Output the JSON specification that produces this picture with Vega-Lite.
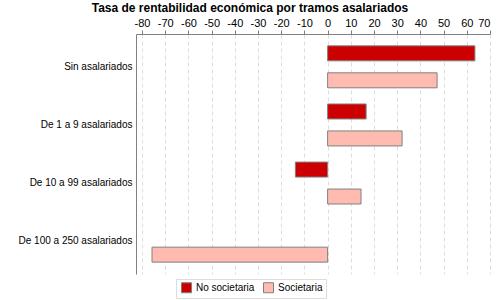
{
  "$schema": "https://vega.github.io/schema/vega-lite/v6.json",
  "autosize": {"type": "none"},
  "padding": {"left": 136, "top": 34, "right": 10, "bottom": 26},
  "width": 354,
  "height": 240,
  "background": "white",
  "title": {"text": "Tasa de rentabilidad económica por tramos asalariados", "font": "Liberation Sans", "fontSize": 12, "fontWeight": "bold", "color": "#000000", "anchor": "middle", "offset": 2, "dx": -63},
  "data": {"values": [
    {"tramo": "Sin asalariados", "tipo": "No societaria", "valor": 63.5},
    {"tramo": "Sin asalariados", "tipo": "Societaria", "valor": 47.2},
    {"tramo": "De 1 a 9 asalariados", "tipo": "No societaria", "valor": 16.6},
    {"tramo": "De 1 a 9 asalariados", "tipo": "Societaria", "valor": 32.1},
    {"tramo": "De 10 a 99 asalariados", "tipo": "No societaria", "valor": -13.9},
    {"tramo": "De 10 a 99 asalariados", "tipo": "Societaria", "valor": 14.4},
    {"tramo": "De 100 a 250 asalariados", "tipo": "Societaria", "valor": -75.7}
  ]},
  "mark": {"type": "bar", "stroke": "#808080", "strokeWidth": 1},
  "encoding": {
    "y": {"field": "tramo", "type": "nominal", "sort": ["Sin asalariados", "De 1 a 9 asalariados", "De 10 a 99 asalariados", "De 100 a 250 asalariados"], "scale": {"paddingInner": 0, "paddingOuter": 0.065}, "axis": {"title": null, "domainColor": "#808080", "ticks": false, "labelFont": "Liberation Sans", "labelFontSize": 10, "labelColor": "#000000", "labelPadding": 4}},
    "yOffset": {"field": "tipo", "type": "nominal", "sort": ["No societaria", "Societaria"], "scale": {"paddingInner": 0.444, "paddingOuter": 0.3}},
    "x": {"field": "valor", "type": "quantitative", "scale": {"domain": [-82.6, 70], "nice": false, "zero": false}, "axis": {"orient": "top", "title": null, "values": [-80,-70,-60,-50,-40,-30,-20,-10,0,10,20,30,40,50,60,70], "labelExpr": "toString(datum.value)", "domainColor": "#808080", "tickColor": "#808080", "tickSize": 4, "gridColor": "#dddddd", "gridDash": [4, 3], "labelFont": "Liberation Sans", "labelFontSize": 11, "labelColor": "#000000", "labelPadding": 2}},
    "color": {"field": "tipo", "type": "nominal", "scale": {"domain": ["No societaria", "Societaria"], "range": ["#cc0000", "#ffbbb0"]}, "legend": {"title": null, "orient": "none", "direction": "horizontal", "legendX": 40, "legendY": 245, "symbolType": "square", "symbolSize": 100, "symbolStrokeColor": "#808080", "symbolStrokeWidth": 1, "labelFont": "Liberation Sans", "labelFontSize": 10, "labelColor": "#000000", "strokeColor": "#dddddd", "padding": 3, "columnPadding": 6, "symbolOffset": 2}}
  },
  "config": {"view": {"stroke": null}}
}
